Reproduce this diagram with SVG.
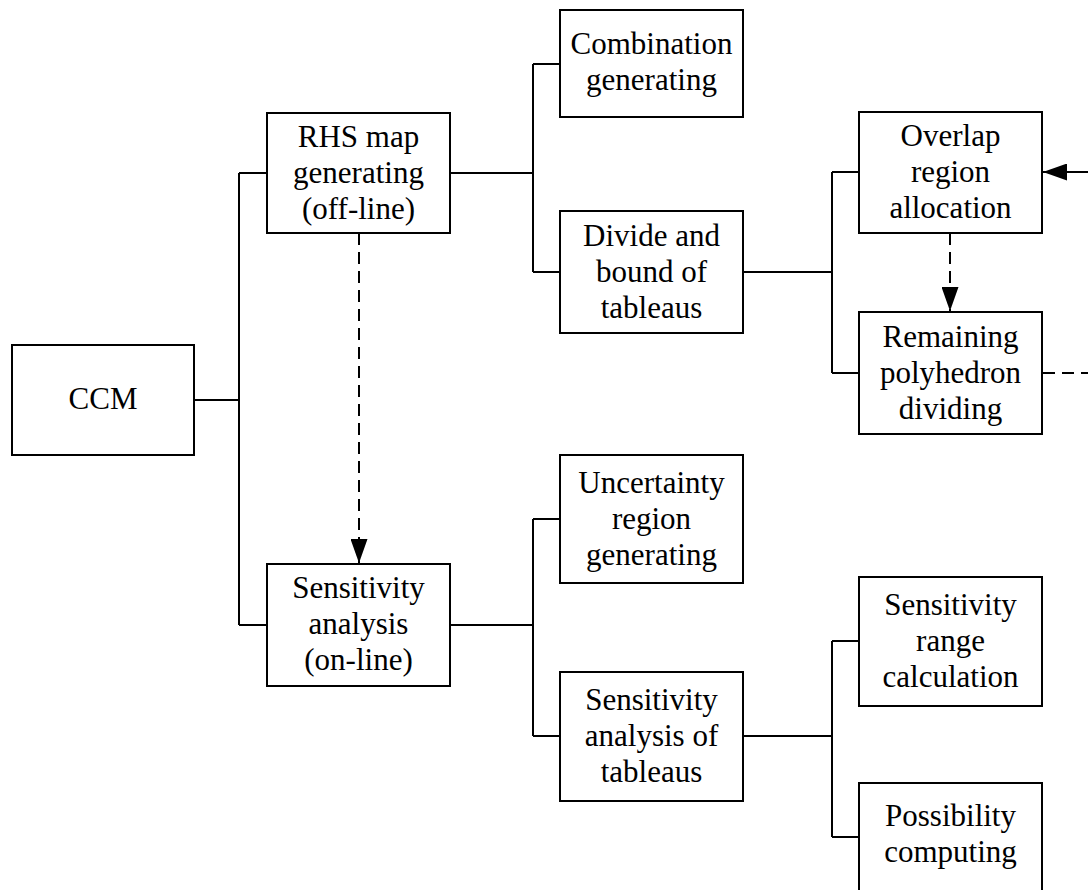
<svg xmlns="http://www.w3.org/2000/svg" width="1088" height="890" viewBox="0 0 1088 890">
  <style>
    .box { fill: #fff; stroke: #000; stroke-width: 2; }
    .lbl { font-family: "Liberation Serif", "Times New Roman", serif; font-size: 31px; fill: #000; text-anchor: middle; }
    .wire { fill: none; stroke: #000; stroke-width: 2; }
    .dash { fill: none; stroke: #000; stroke-width: 2; stroke-dasharray: 12 7; }
  </style>
  <defs>
    <marker id="head" markerUnits="userSpaceOnUse" markerWidth="25" markerHeight="17" refX="24" refY="8.5" orient="auto">
      <path d="M0,0 L24,8.5 L0,17 z" fill="#000"/>
    </marker>
  </defs>
  <rect width="1088" height="890" fill="#fff"/>

  <g id="connectors">
    <!-- CCM to its two branches -->
    <path class="wire" d="M194,400 H239 M239,173 V625 M239,173 H267 M239,625 H267"/>
    <!-- RHS map branches -->
    <path class="wire" d="M450,173 H533 M533,64 V272 M533,64 H560 M533,272 H560"/>
    <!-- Divide and bound branches -->
    <path class="wire" d="M743,272 H832 M832,172 V373 M832,172 H859 M832,373 H859"/>
    <!-- Sensitivity analysis branches -->
    <path class="wire" d="M450,625 H533 M533,519 V736 M533,519 H560 M533,736 H560"/>
    <!-- Sensitivity analysis of tableaus branches -->
    <path class="wire" d="M743,736 H832 M832,641 V837 M832,641 H859 M832,837 H859"/>
    <!-- dashed flows -->
    <path class="dash" d="M359,233 V563" marker-end="url(#head)"/>
    <path class="dash" d="M950,233 V311" marker-end="url(#head)"/>
    <path class="dash" d="M1042,373 H1090" stroke-dashoffset="-1"/>
    <!-- feedback arrow entering Overlap region allocation -->
    <path class="wire" d="M1090,172 H1043" marker-end="url(#head)"/>
  </g>

  <g id="ccm">
    <rect class="box" x="12" y="345" width="182" height="110"/>
    <text class="lbl" x="103" y="409">CCM</text>
  </g>
  <g id="rhs-map">
    <rect class="box" x="267" y="113" width="183" height="120"/>
    <text class="lbl" x="358.5" y="147">RHS map</text>
    <text class="lbl" x="358.5" y="183">generating</text>
    <text class="lbl" x="358.5" y="219">(off-line)</text>
  </g>
  <g id="sensitivity-analysis">
    <rect class="box" x="267" y="564" width="183" height="122"/>
    <text class="lbl" x="358.5" y="598">Sensitivity</text>
    <text class="lbl" x="358.5" y="634">analysis</text>
    <text class="lbl" x="358.5" y="670">(on-line)</text>
  </g>
  <g id="combination">
    <rect class="box" x="560" y="10" width="183" height="107"/>
    <text class="lbl" x="651.5" y="54">Combination</text>
    <text class="lbl" x="651.5" y="90">generating</text>
  </g>
  <g id="divide-bound">
    <rect class="box" x="560" y="211" width="183" height="122"/>
    <text class="lbl" x="651.5" y="246">Divide and</text>
    <text class="lbl" x="651.5" y="282">bound of</text>
    <text class="lbl" x="651.5" y="318">tableaus</text>
  </g>
  <g id="overlap">
    <rect class="box" x="859" y="112" width="183" height="121"/>
    <text class="lbl" x="950.5" y="146">Overlap</text>
    <text class="lbl" x="950.5" y="182">region</text>
    <text class="lbl" x="950.5" y="218">allocation</text>
  </g>
  <g id="remaining">
    <rect class="box" x="859" y="312" width="183" height="122"/>
    <text class="lbl" x="950.5" y="347">Remaining</text>
    <text class="lbl" x="950.5" y="383">polyhedron</text>
    <text class="lbl" x="950.5" y="419">dividing</text>
  </g>
  <g id="uncertainty">
    <rect class="box" x="560" y="455" width="183" height="128"/>
    <text class="lbl" x="651.5" y="493">Uncertainty</text>
    <text class="lbl" x="651.5" y="529">region</text>
    <text class="lbl" x="651.5" y="565">generating</text>
  </g>
  <g id="sens-tableaus">
    <rect class="box" x="560" y="672" width="183" height="129"/>
    <text class="lbl" x="651.5" y="710">Sensitivity</text>
    <text class="lbl" x="651.5" y="746">analysis of</text>
    <text class="lbl" x="651.5" y="782">tableaus</text>
  </g>
  <g id="sens-range">
    <rect class="box" x="859" y="577" width="183" height="129"/>
    <text class="lbl" x="950.5" y="615">Sensitivity</text>
    <text class="lbl" x="950.5" y="651">range</text>
    <text class="lbl" x="950.5" y="687">calculation</text>
  </g>
  <g id="possibility">
    <rect class="box" x="859" y="783" width="183" height="110"/>
    <text class="lbl" x="950.5" y="826">Possibility</text>
    <text class="lbl" x="950.5" y="862">computing</text>
  </g>
</svg>
